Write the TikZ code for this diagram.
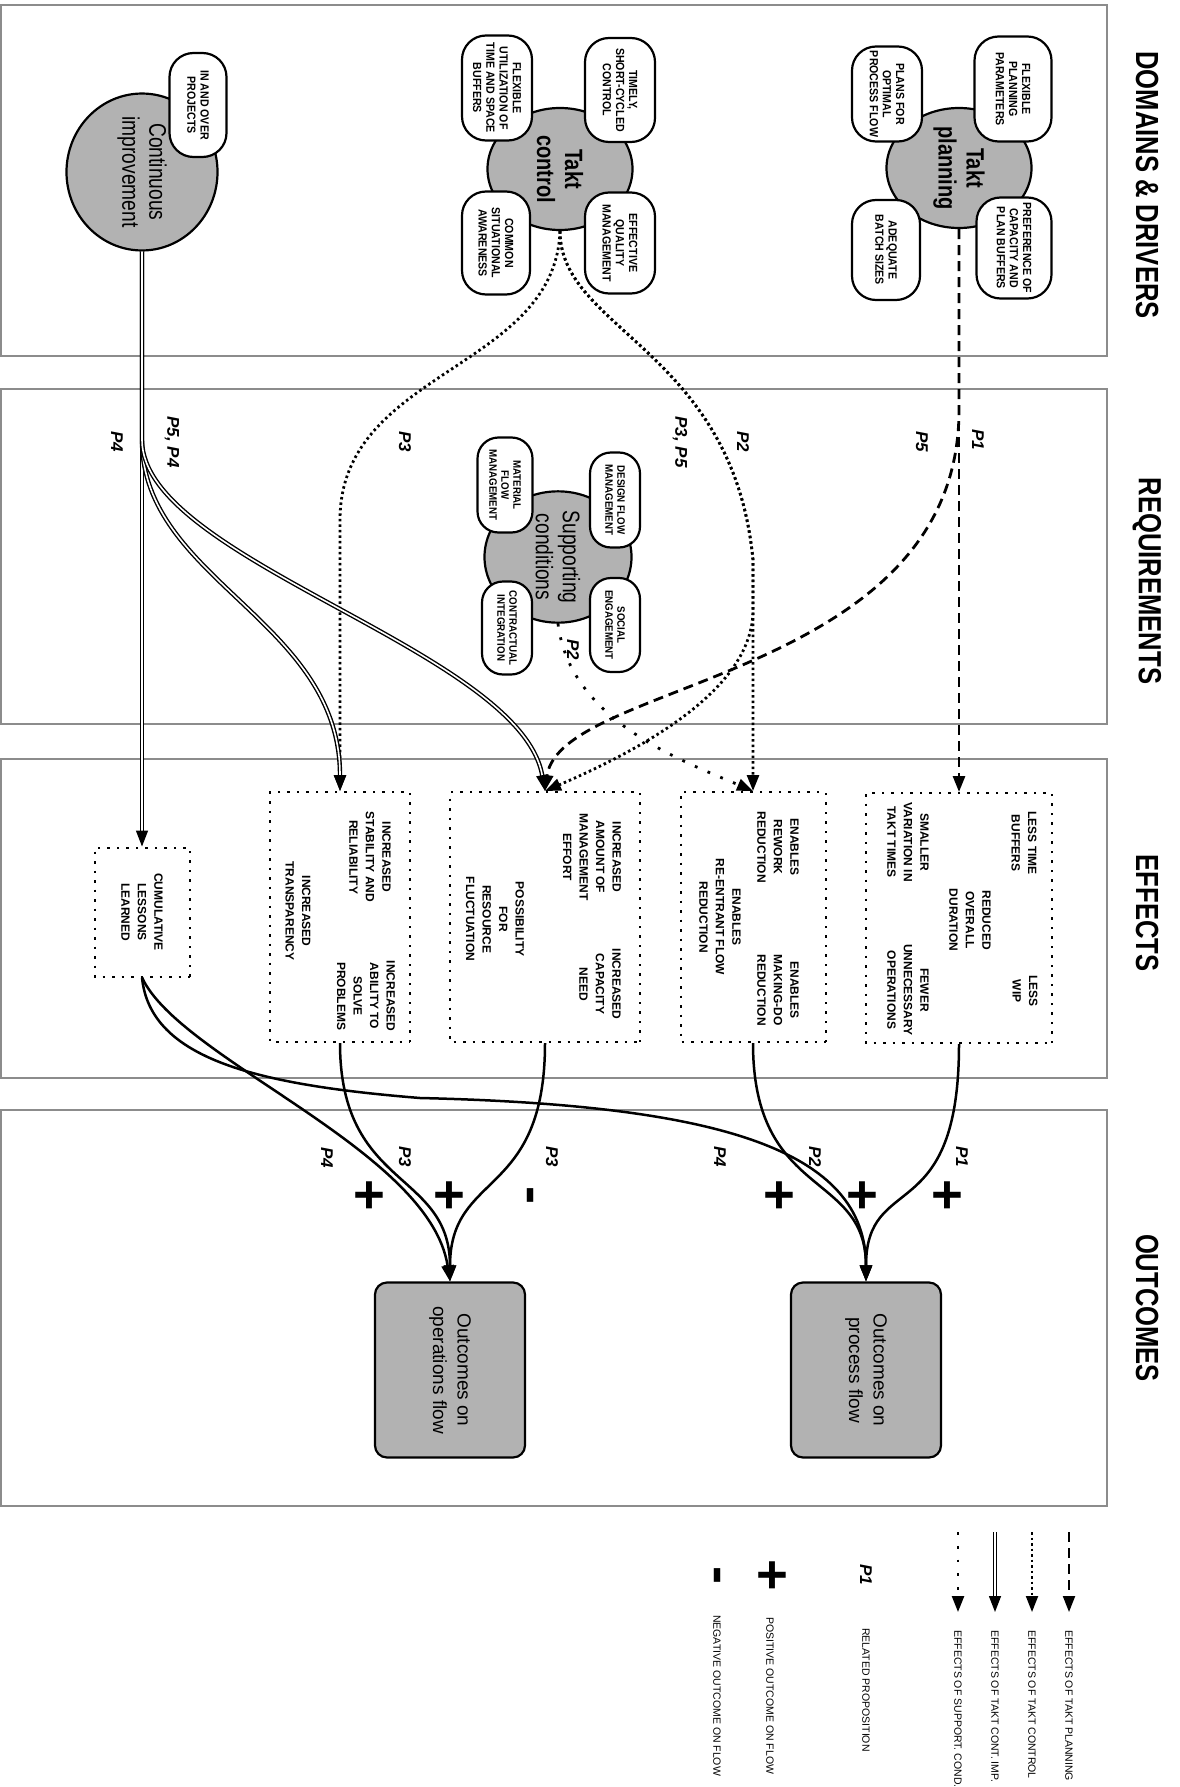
\documentclass[tikz,border=0pt]{standalone}
\usepackage{fontspec}
\setmainfont{Liberation Sans}
\newfontfamily\narrowsf[FakeStretch=0.8]{Liberation Sans}
\newfontfamily\midsf[FakeStretch=0.9]{Liberation Sans}
\usepackage{tikz}
\usetikzlibrary{arrows.meta,shapes.geometric}
\tikzset{
  rot/.style={rotate=-90},
  panel/.style={draw=black!45,line width=2pt},
  colhead/.style={rot,font=\narrowsf\bfseries\fontsize{32}{34}\selectfont},
  dom/.style={rot,ellipse,draw,line width=2.2pt,fill=black!30,inner sep=0pt,align=center,font=\narrowsf\fontsize{24}{27}\selectfont},
  domb/.style={dom,font=\narrowsf\bfseries\fontsize{25}{28}\selectfont},
  pill/.style={rot,draw,line width=2.2pt,fill=white,rounded corners=24pt,inner sep=0pt,align=center,font=\midsf\bfseries\fontsize{11.8}{13.2}\selectfont},
  spill/.style={pill,rounded corners=21pt,font=\midsf\bfseries\fontsize{10.8}{12}\selectfont},
  eff/.style={rot,draw,line width=2pt,dash pattern=on 2.5pt off 7pt,inner sep=0pt,align=center,font=\bfseries\fontsize{12}{16.5}\selectfont},
  etxt/.style={rot,align=center,inner sep=0pt,font=\bfseries\fontsize{12}{16.5}\selectfont},
  res/.style={rot,draw,line width=2.2pt,fill=black!30,rounded corners=12pt,align=center,minimum width=175pt,minimum height=150pt,font=\fontsize{19}{24.5}\selectfont},
  prop/.style={rot,inner sep=0pt,font=\bfseries\itshape\fontsize{17}{17}\selectfont},
  sgn/.style={rot,inner sep=0pt,font=\bfseries\fontsize{54}{54}\selectfont},
  legtxt/.style={rot,anchor=west,inner sep=0pt,font=\fontsize{10.5}{12}\selectfont},
  ahead/.style={-{Triangle[length=16pt,width=12pt]}},
  plan/.style={ahead,line width=2.8pt,dash pattern=on 10pt off 6pt},
  ctrl/.style={ahead,line width=2.8pt,dash pattern=on 2.5pt off 3pt},
  cimp/.style={ahead,line width=1.4pt,double,double distance=1.6pt},
  supp/.style={ahead,line width=2.8pt,dash pattern=on 2.8pt off 11pt},
  flow/.style={ahead,line width=2.5pt},
}

\begin{document}
\begin{tikzpicture}[x=1pt,y=-1pt]
  \useasboundingbox (0,0) rectangle (1179,1787);
  % panels and column heads
  \draw[panel] (1,5) rectangle (1107,356);
  \draw[panel] (1,389) rectangle (1107,724);
  \draw[panel] (1,759) rectangle (1107,1078);
  \draw[panel] (1,1110) rectangle (1107,1506);
  \node[colhead] (h1) at (1147,185){DOMAINS \& DRIVERS};
  \node[colhead] (h2) at (1147,581){REQUIREMENTS};
  \node[colhead] (h3) at (1147,913){EFFECTS};
  \node[colhead] (h4) at (1147,1308){OUTCOMES};

  \node[domb,minimum width=120pt,minimum height=145pt] (tp) at (959,168){Takt\\planning};
  \node[pill,minimum width=105pt,minimum height=77pt] (tpa) at (1013,89){FLEXIBLE\\PLANNING\\PARAMETERS};
  \node[pill,minimum width=95pt,minimum height=70pt] (tpb) at (887,94){PLANS FOR\\OPTIMAL\\PROCESS FLOW};
  \node[pill,minimum width=101pt,minimum height=75pt] (tpc) at (1014,248){PREFERENCE OF\\CAPACITY AND\\PLAN BUFFERS};
  \node[pill,minimum width=100pt,minimum height=68pt] (tpd) at (886,250){ADEQUATE\\BATCH SIZES};

  \node[domb,minimum width=122pt,minimum height=145pt] (tc) at (560,169){Takt\\control};
  \node[pill,minimum width=104pt,minimum height=70pt] (tca) at (620,90){TIMELY,\\SHORT-CYCLED\\CONTROL};
  \node[pill,minimum width=105pt,minimum height=70pt] (tcb) at (497,88){FLEXIBLE\\UTILIZATION OF\\TIME AND SPACE\\BUFFERS};
  \node[pill,minimum width=101pt,minimum height=70pt] (tcc) at (620,243){EFFECTIVE\\QUALITY\\MANAGEMENT};
  \node[pill,minimum width=103pt,minimum height=68pt] (tcd) at (496,243){COMMON\\SITUATIONAL\\AWARENESS};

  \node[dom,minimum width=129pt,minimum height=151pt] (ci) at (142,172){Continuous\\improvement};
  \node[pill,minimum width=104pt,minimum height=57pt] (cia) at (198,105){IN AND OVER\\PROJECTS};

  \node[dom,minimum width=120pt,minimum height=147pt] (sc) at (558,557){Supporting\\conditions};
  \node[spill,minimum width=95pt,minimum height=50pt] (sca) at (615,500){DESIGN FLOW\\MANAGEMENT};
  \node[spill,minimum width=94pt,minimum height=50pt] (scb) at (615,625){SOCIAL\\ENGAGEMENT};
  \node[spill,minimum width=95pt,minimum height=55pt] (scc) at (505,485){MATERIAL\\FLOW\\MANAGEMENT};
  \node[spill,minimum width=93pt,minimum height=50pt] (scd) at (507,628){CONTRACTUAL\\INTEGRATION};

  % effects
  \node[eff,minimum width=250pt,minimum height=186pt] (e1) at (959,918){};
  \node[etxt] (e1a) at (1024,843){LESS TIME\\BUFFERS};
  \node[etxt] (e1b) at (970,920){REDUCED\\OVERALL\\DURATION};
  \node[etxt] (e1c) at (1025,991){LESS\\WIP};
  \node[etxt] (e1d) at (908,842){SMALLER\\VARIATION IN\\TAKT TIMES};
  \node[etxt] (e1e) at (908,990){FEWER\\UNNECESSARY\\OPERATIONS};
  \node[eff,minimum width=250pt,minimum height=145pt] (e2) at (753,917){};
  \node[etxt] (e2a) at (778,847){ENABLES\\REWORK\\REDUCTION};
  \node[etxt] (e2b) at (720,917){ENABLES\\RE-ENTRANT FLOW\\REDUCTION};
  \node[etxt] (e2c) at (778,990){ENABLES\\MAKING-DO\\REDUCTION};
  \node[eff,minimum width=250pt,minimum height=190pt] (e3) at (545,917){};
  \node[etxt] (e3a) at (592,857){INCREASED\\AMOUNT OF\\MANAGEMENT\\EFFORT};
  \node[etxt] (e3b) at (600,984){INCREASED\\CAPACITY\\NEED};
  \node[etxt] (e3c) at (495,919){POSSIBILITY\\FOR\\RESOURCE\\FLUCTUATION};
  \node[eff,minimum width=250pt,minimum height=140pt] (e4) at (340,917){};
  \node[etxt] (e4a) at (370,857){INCREASED\\STABILITY AND\\RELIABILITY};
  \node[etxt] (e4b) at (298,911){INCREASED\\TRANSPARENCY};
  \node[etxt] (e4c) at (366,996){INCREASED\\ABILITY TO\\SOLVE\\PROBLEMS};
  \node[eff,minimum width=129pt,minimum height=95pt] (e5) at (142,912){CUMULATIVE\\LESSONS\\LEARNED};

  \node[res] (op) at (866,1370){Outcomes on\\process flow};
  \node[res] (oo) at (450,1370){Outcomes on\\operations flow};

  \draw[plan] (tp.east) -- (e1.west);
  \draw[plan] (tp.east) -- (959,410) .. controls (959,680) and (560,680) .. (e3.west);
  \draw[ctrl] (tc.east) .. controls (560,330) and (733,350) .. (753,560) -- (e2.west);
  \draw[ctrl] (tc.east) .. controls (560,330) and (733,350) .. (753,560) -- (753,610) .. controls (753,690) and (640,750) .. (e3.west);
  \draw[ctrl] (tc.east) .. controls (555,370) and (340,370) .. (340,520) -- (e4.west);
  \draw[supp] (sc.east) .. controls (570,720) and (680,760) .. (e2.west);
  \draw[cimp] (ci.east) -- (e5.west);
  \draw[cimp] (ci.east) -- (142,440) .. controls (142,580) and (340,620) .. (e4.west);
  \draw[cimp] (ci.east) -- (142,440) .. controls (142,560) and (520,650) .. (e3.west);

  \draw[flow] (e1.east) .. controls (959,1230) and (866,1170) .. (op.west);
  \draw[flow] (e2.east) .. controls (753,1200) and (866,1170) .. (op.west);
  \draw[flow] (e5.east) .. controls (150,1060) and (260,1085) .. (420,1098) .. controls (720,1105) and (866,1150) .. (op.west);
  \draw[flow] (e3.east) .. controls (545,1200) and (450,1170) .. (oo.west);
  \draw[flow] (e4.east) .. controls (340,1190) and (450,1170) .. (oo.west);
  \draw[flow] (e5.east) .. controls (180,1060) and (430,1150) .. (oo.west);

  % proposition labels and signs
  \node[prop] (p1) at (978,440){P1};
  \node[prop] (p5) at (922,442){P5};
  \node[prop] (p2) at (743,442){P2};
  \node[prop] (p35) at (680,442){P3, P5};
  \node[prop] (p3) at (405,442){P3};
  \node[prop] (p54) at (172,442){P5, P4};
  \node[prop] (p4) at (117,442){P4};
  \node[prop] (p2s) at (573,650){P2};
  \node[prop] (q1) at (962,1157){P1};
  \node[prop] (q2) at (815,1157){P2};
  \node[prop] (q4) at (720,1157){P4};
  \node[prop] (q3) at (552,1157){P3};
  \node[prop] (q3b) at (405,1157){P3};
  \node[prop] (q4b) at (327,1158){P4};
  \node[sgn] (s1) at (945,1195){+};
  \node[sgn] (s2) at (860,1195){+};
  \node[sgn] (s3) at (777,1195){+};
  \node[sgn] (s4) at (525,1195){-};
  \node[sgn] (s5) at (447,1195){+};
  \node[sgn] (s6) at (367,1195){+};

  % legend
  \coordinate (la1) at (1069,1532); \coordinate (lb1) at (1069,1612);
  \coordinate (la2) at (1032,1532); \coordinate (lb2) at (1032,1612);
  \coordinate (la3) at (995,1532); \coordinate (lb3) at (995,1612);
  \coordinate (la4) at (958,1532); \coordinate (lb4) at (958,1612);
  \draw[plan,line width=2pt] (la1) -- (lb1);
  \draw[ctrl,line width=2pt] (la2) -- (lb2);
  \draw[cimp] (la3) -- (lb3);
  \draw[supp,line width=2.4pt] (la4) -- (lb4);
  \node[legtxt] (k1) at (1069,1630){EFFECTS OF TAKT PLANNING};
  \node[legtxt] (k2) at (1032,1630){EFFECTS OF TAKT CONTROL};
  \node[legtxt] (k3) at (995,1630){EFFECTS OF TAKT CONT. IMP.};
  \node[legtxt] (k4) at (958,1630){EFFECTS OF SUPPORT. COND.};
  \node[prop] (k5) at (866,1575){P1};
  \node[legtxt] (k6) at (866,1628){RELATED PROPOSITION};
  \node[sgn] (k7) at (770,1575){+};
  \node[legtxt] (k8) at (770,1617){POSITIVE OUTCOME ON FLOW};
  \node[sgn] (k9) at (712,1575){-};
  \node[legtxt] (k10) at (717,1615){NEGATIVE OUTCOME ON FLOW};
\end{tikzpicture}
\end{document}
